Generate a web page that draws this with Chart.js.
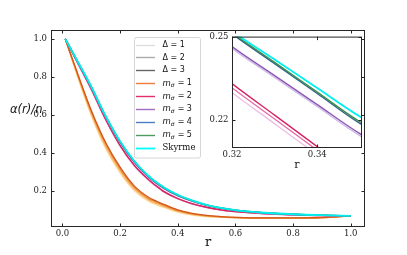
<!DOCTYPE html>
<html>
<head>
<meta charset="utf-8">
<script src="https://cdn.jsdelivr.net/npm/chart.js@4.4.0/dist/chart.umd.min.js"></script>
<style>
    body { margin: 0; background: #fff; }
    #wrap { position: relative; width: 407px; height: 255px; }
    canvas { position: absolute; }
</style>
</head>
<body>
<div id="wrap">
    <canvas id="main" width="407" height="255" style="left:0;top:0;width:407px;height:255px"></canvas>
    <canvas id="inset" width="180" height="150" style="left:190px;top:28px;width:180px;height:150px"></canvas>
</div>
<script>
// r grid the curves were read at (extra points around the inset window)
var rValues = [0.01, 0.05, 0.1, 0.15, 0.2, 0.25, 0.3, 0.32, 0.33, 0.34, 0.35, 0.4, 0.45, 0.5, 0.55, 0.6, 0.7, 0.8, 0.9, 1.0];

// alpha(r)/n, one array per drawn line
var alphaCyan      = [1.0, 0.890, 0.750, 0.595, 0.462, 0.356, 0.277, 0.2520, 0.2417, 0.2314, 0.2211, 0.180, 0.150, 0.127, 0.111, 0.099, 0.085, 0.077, 0.072, 0.069];
var alphaGreen     = [1.0, 0.889, 0.749, 0.594, 0.461, 0.355, 0.276, 0.2514, 0.2407, 0.2299, 0.2192, 0.178, 0.149, 0.126, 0.110, 0.098, 0.085, 0.077, 0.072, 0.069];
var alphaBlue      = [1.0, 0.889, 0.748, 0.593, 0.460, 0.354, 0.2755, 0.2510, 0.2402, 0.2294, 0.2186, 0.1775, 0.1485, 0.1255, 0.110, 0.098, 0.085, 0.077, 0.072, 0.069];
var alphaPurple    = [1.0, 0.887, 0.745, 0.589, 0.455, 0.349, 0.271, 0.2464, 0.2359, 0.2254, 0.2149, 0.175, 0.146, 0.124, 0.108, 0.097, 0.084, 0.076, 0.071, 0.069];
var alphaLavender  = [1.0, 0.886, 0.744, 0.588, 0.454, 0.348, 0.2703, 0.2457, 0.2352, 0.2247, 0.2142, 0.1745, 0.1455, 0.1235, 0.1078, 0.0968, 0.084, 0.076, 0.071, 0.069];
var alphaCrimson   = [1.0, 0.883, 0.737, 0.577, 0.440, 0.334, 0.258, 0.2330, 0.2216, 0.2102, 0.1988, 0.160, 0.133, 0.114, 0.100, 0.091, 0.080, 0.074, 0.070, 0.069];
var alphaPink      = [1.0, 0.882, 0.735, 0.575, 0.438, 0.332, 0.2565, 0.2315, 0.2202, 0.2089, 0.1976, 0.159, 0.132, 0.113, 0.0995, 0.0905, 0.0795, 0.0735, 0.0698, 0.069];
var alphaLightPink = [1.0, 0.881, 0.733, 0.573, 0.436, 0.330, 0.255, 0.2298, 0.2185, 0.2072, 0.1959, 0.158, 0.131, 0.112, 0.099, 0.090, 0.079, 0.073, 0.0695, 0.069];
var alphaDarkOrange  = [1.0, 0.830, 0.625, 0.455, 0.325, 0.225, 0.165, 0.150, 0.143, 0.136, 0.130, 0.100, 0.082, 0.071, 0.065, 0.061, 0.058, 0.058, 0.060, 0.069];
var alphaOrange      = [1.0, 0.825, 0.617, 0.446, 0.316, 0.217, 0.158, 0.144, 0.137, 0.131, 0.125, 0.096, 0.079, 0.069, 0.063, 0.060, 0.057, 0.057, 0.059, 0.069];
var alphaLightOrange = [1.0, 0.819, 0.607, 0.434, 0.305, 0.208, 0.151, 0.137, 0.131, 0.125, 0.119, 0.092, 0.076, 0.067, 0.062, 0.059, 0.057, 0.057, 0.059, 0.069];
var alphaPale        = [1.0, 0.813, 0.597, 0.423, 0.295, 0.200, 0.144, 0.131, 0.125, 0.119, 0.114, 0.088, 0.073, 0.065, 0.061, 0.058, 0.057, 0.057, 0.059, 0.069];

// tick labels
var mainXTicks = [0.0, 0.2, 0.4, 0.6, 0.8, 1.0];
var mainYTicks = [0.2, 0.4, 0.6, 0.8, 1.0];
var insetXTicks = [0.32, 0.34];
var insetYTicks = [0.22, 0.25];

// legend entries as printed in the figure
var legendLabels = ['Δ = 1', 'Δ = 2', 'Δ = 3', 'mσ = 1', 'mσ = 2', 'mσ = 3', 'mσ = 4', 'mσ = 5', 'Skyrme'];
var legendColors = ['#dedede', '#ababab', '#666666', '#ee7a3a', '#e2306a', '#a36cc4', '#4a7dc4', '#4e9a5c', '#00ffff'];

// first one is drawn on top
var lineSeries = [
    { data: alphaCyan, color: '#00f0f0', width: 1.8 },
    { data: alphaGreen, color: '#3f8c45', width: 1.4 },
    { data: alphaBlue, color: '#2f6490', width: 1.4 },
    { data: alphaPurple, color: '#8e55b4', width: 1.4 },
    { data: alphaLavender, color: '#c9b8e6', width: 1.4 },
    { data: alphaCrimson, color: '#d4205e', width: 1.3 },
    { data: alphaPink, color: '#e66aa6', width: 1.3 },
    { data: alphaLightPink, color: '#e9bde6', width: 1.3 },
    { data: alphaDarkOrange, color: '#d2561a', width: 1.3 },
    { data: alphaOrange, color: '#f08a35', width: 1.3 },
    { data: alphaLightOrange, color: '#f8b866', width: 1.3 },
    { data: alphaPale, color: '#fdda96', width: 1.3 }
];

function buildDatasets() {
    var sets = [];
    lineSeries.forEach(function(s) {
        sets.push({
            data: rValues.map(function(r, i) { return { x: r, y: s.data[i] }; }),
            borderColor: s.color,
            borderWidth: s.width,
            pointRadius: 0,
            fill: false,
            cubicInterpolationMode: 'monotone'
        });
    });
    return sets;
}

// frame box with inward ticks on all four sides
var frameTicks = {
    id: 'frameTicks',
    afterDraw: function(chart, args, opts) {
        var ctx = chart.ctx, a = chart.chartArea;
        var xs = chart.scales.x, ys = chart.scales.y;
        var len = opts.len || 3.5;
        ctx.save();
        ctx.strokeStyle = '#262626';
        ctx.lineWidth = 1;
        ctx.strokeRect(a.left + 0.5, a.top + 0.5, a.right - a.left - 1, a.bottom - a.top - 1);
        ctx.beginPath();
        xs.ticks.forEach(function(t) {
            var px = Math.round(xs.getPixelForValue(t.value)) + 0.5;
            ctx.moveTo(px, a.bottom); ctx.lineTo(px, a.bottom - len);
            ctx.moveTo(px, a.top); ctx.lineTo(px, a.top + len);
        });
        ys.ticks.forEach(function(t) {
            var py = Math.round(ys.getPixelForValue(t.value)) + 0.5;
            ctx.moveTo(a.left, py); ctx.lineTo(a.left + len, py);
            ctx.moveTo(a.right, py); ctx.lineTo(a.right - len, py);
        });
        ctx.stroke();
        ctx.restore();
    }
};

var whiteArea = {
    id: 'whiteArea',
    beforeDatasetsDraw: function(chart) {
        var a = chart.chartArea;
        chart.ctx.save();
        chart.ctx.fillStyle = '#ffffff';
        chart.ctx.fillRect(a.left, a.top, a.right - a.left, a.bottom - a.top);
        chart.ctx.restore();
    }
};

function drawLegendLabel(ctx, label, x, y) {
    if (label.indexOf('mσ') === 0) {
        ctx.font = 'italic 8.5px "DejaVu Sans"';
        ctx.fillText('m', x, y);
        x += ctx.measureText('m').width;
        ctx.font = 'italic 6px "DejaVu Sans"';
        ctx.fillText('σ', x, y + 2.5);
        x += ctx.measureText('σ').width + 0.5;
        ctx.font = '8px "DejaVu Sans"';
        ctx.fillText(label.slice(2), x, y);
    } else if (label === 'Skyrme') {
        ctx.font = '8.5px "DejaVu Serif"';
        ctx.fillText(label, x, y);
    } else {
        ctx.font = '8px "DejaVu Sans"';
        ctx.fillText(label, x, y);
    }
}

var mainDecor = {
    id: 'mainDecor',
    afterDraw: function(chart) {
        var ctx = chart.ctx;
        ctx.save();
        // legend
        var bx = 134, by = 37, bw = 66, bh = 120.5;
        ctx.fillStyle = 'rgba(255,255,255,0.85)';
        ctx.strokeStyle = '#d6d6d6';
        ctx.lineWidth = 1;
        ctx.beginPath();
        ctx.roundRect(bx + 0.5, by + 0.5, bw, bh, 2);
        ctx.fill();
        ctx.stroke();
        ctx.textBaseline = 'middle';
        ctx.textAlign = 'left';
        legendLabels.forEach(function(lab, i) {
            var y = 44.5 + i * 12.95;
            ctx.strokeStyle = legendColors[i];
            ctx.lineWidth = lab === 'Skyrme' ? 1.8 : 1.4;
            ctx.beginPath();
            ctx.moveTo(136, Math.round(y) + 0.5);
            ctx.lineTo(155, Math.round(y) + 0.5);
            ctx.stroke();
            ctx.fillStyle = '#111';
            drawLegendLabel(ctx, lab, 162.5, y);
        });
        // axis titles
        ctx.fillStyle = '#111';
        ctx.font = 'italic 11.5px "DejaVu Sans"';
        ctx.fillText('α(r)/n', 10, 110);
        ctx.textAlign = 'center';
        ctx.font = '13px "DejaVu Serif"';
        ctx.fillText('r', 208, 243);
        ctx.restore();
    }
};

var insetDecor = {
    id: 'insetDecor',
    afterDraw: function(chart) {
        var ctx = chart.ctx;
        ctx.save();
        ctx.fillStyle = '#111';
        ctx.textAlign = 'center';
        ctx.textBaseline = 'middle';
        ctx.font = '11px "DejaVu Serif"';
        ctx.fillText('r', (chart.chartArea.left + chart.chartArea.right) / 2, 137);
        ctx.restore();
    }
};

function axisOptions(min, max, tickList, digits, size, pad, fixed) {
    return {
        type: 'linear',
        min: min,
        max: max,
        afterBuildTicks: function(s) {
            s.ticks = tickList.map(function(v) { return { value: v }; });
        },
        afterFit: fixed,
        grid: { display: false, drawTicks: false },
        border: { display: false },
        ticks: {
            autoSkip: false,
            maxRotation: 0,
            padding: pad,
            color: '#222',
            font: { family: 'DejaVu Serif', size: size },
            callback: function(v) { return Number(v).toFixed(digits); }
        }
    };
}

Chart.defaults.animation = false;

var mainChart = new Chart(document.getElementById('main'), {
    type: 'line',
    data: { datasets: buildDatasets() },
    options: {
        responsive: false,
        layout: { padding: { left: 0, top: 30, right: 42, bottom: 0 } },
        plugins: { legend: { display: false }, tooltip: { enabled: false }, frameTicks: { len: 3.5 } },
        scales: {
            x: axisOptions(-0.0395, 1.0495, mainXTicks, 1, 8.5, 1.5, function(s) { s.height = 28; }),
            y: axisOptions(0.010, 1.047, mainYTicks, 1, 8.5, 4, function(s) { s.width = 51; })
        }
    },
    plugins: [frameTicks, mainDecor]
});

var insetChart = new Chart(document.getElementById('inset'), {
    type: 'line',
    data: { datasets: buildDatasets() },
    options: {
        responsive: false,
        layout: { padding: { left: 0, top: 7, right: 8, bottom: 0 } },
        plugins: { legend: { display: false }, tooltip: { enabled: false }, frameTicks: { len: 3.5 } },
        scales: {
            x: axisOptions(0.32, 0.3505, insetXTicks, 2, 8.5, 1.5, function(s) { s.height = 30; }),
            y: axisOptions(0.2097, 0.25, insetYTicks, 2, 8.5, 3.5, function(s) { s.width = 42; })
        }
    },
    plugins: [whiteArea, frameTicks, insetDecor]
});
</script>
</body>
</html>
